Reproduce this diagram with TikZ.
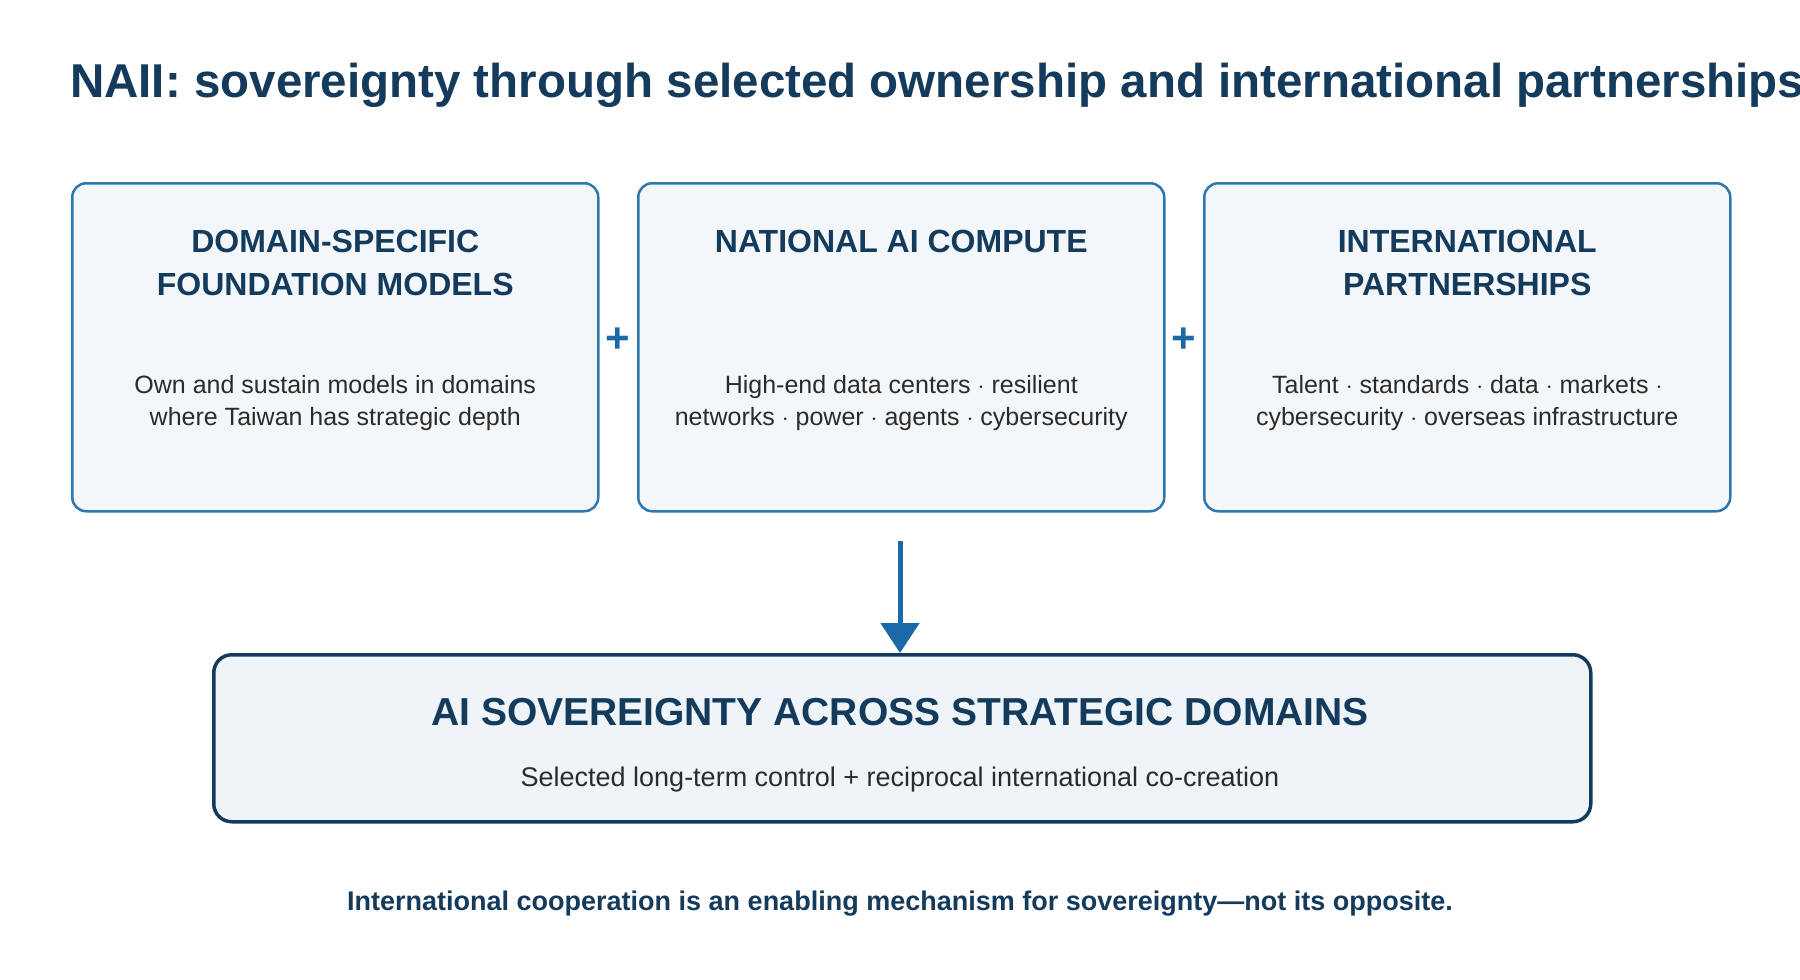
\documentclass[tikz,border=0pt]{standalone}
\usepackage{fontspec}
\setmainfont{Liberation Sans}
\usetikzlibrary{arrows.meta}
\definecolor{navy}{HTML}{143A5C}
\definecolor{bord}{HTML}{2E78AD}
\definecolor{fillA}{HTML}{F3F7FA}
\definecolor{fillB}{HTML}{EEF4F8}
\definecolor{arr}{HTML}{1C69A8}
\definecolor{txt}{HTML}{2B2B2B}
\begin{document}
\begin{tikzpicture}[x=1pt,y=-1pt,
  card/.style={draw=bord,line width=2.5pt,fill=fillA,rounded corners=14pt,minimum width=526pt,minimum height=328pt,anchor=north west},
  head/.style={text=navy,font=\fontsize{32}{43}\selectfont\bfseries,align=center},
  body/.style={text=txt,font=\fontsize{25}{32}\selectfont,align=center},
  plus/.style={text=arr,font=\fontsize{42}{42}\selectfont\bfseries}]
\useasboundingbox (0,0) rectangle (1800,980);
\node[anchor=base west,text=navy,font=\fontsize{47.5}{50}\selectfont\bfseries,inner sep=0] (title) at (70,97) {NAII: sovereignty through selected ownership and international partnerships};
\node[card] (c1) at (71,182) {};
\node[card] (c2) at (637,182) {};
\node[card] (c3) at (1203,182) {};
\foreach \c/\h/\b in {c1/{DOMAIN-SPECIFIC\\FOUNDATION MODELS}/{Own and sustain models in domains\\where Taiwan has strategic depth},
  c2/{NATIONAL AI COMPUTE}/{High-end data centers $\cdot$ resilient\\networks $\cdot$ power $\cdot$ agents $\cdot$ cybersecurity},
  c3/{INTERNATIONAL\\PARTNERSHIPS}/{Talent $\cdot$ standards $\cdot$ data $\cdot$ markets $\cdot$\\cybersecurity $\cdot$ overseas infrastructure}}{
  \node[head,anchor=north] (\c h) at ([yshift=-45pt]\c.north) {\h};
  \node[body,anchor=north] (\c b) at ([yshift=-190pt]\c.north) {\b};
}
\node[plus] (p1) at (618,340) {+};
\node[plus] (p2) at (1184,340) {+};
\node[draw=navy,line width=3.5pt,fill=fillB,rounded corners=18pt,minimum width=1377pt,minimum height=167pt,anchor=north west] (bot) at (212,653) {};
\node[text=navy,font=\fontsize{39}{40}\selectfont\bfseries] (bt) at (900,712) {AI SOVEREIGNTY ACROSS STRATEGIC DOMAINS};
\node[text=txt,font=\fontsize{27}{30}\selectfont] (bs) at (900,780) {Selected long-term control + reciprocal international co-creation};
\coordinate (a1) at (900,541);
\draw[arr,line width=5pt,-{Triangle[length=30pt,width=38pt]}] (a1) -- (a1 |- bot.north);
\node[text=navy,font=\fontsize{27}{30}\selectfont\bfseries] (foot) at (900,904) {International cooperation is an enabling mechanism for sovereignty---not its opposite.};
\end{tikzpicture}
\end{document}
